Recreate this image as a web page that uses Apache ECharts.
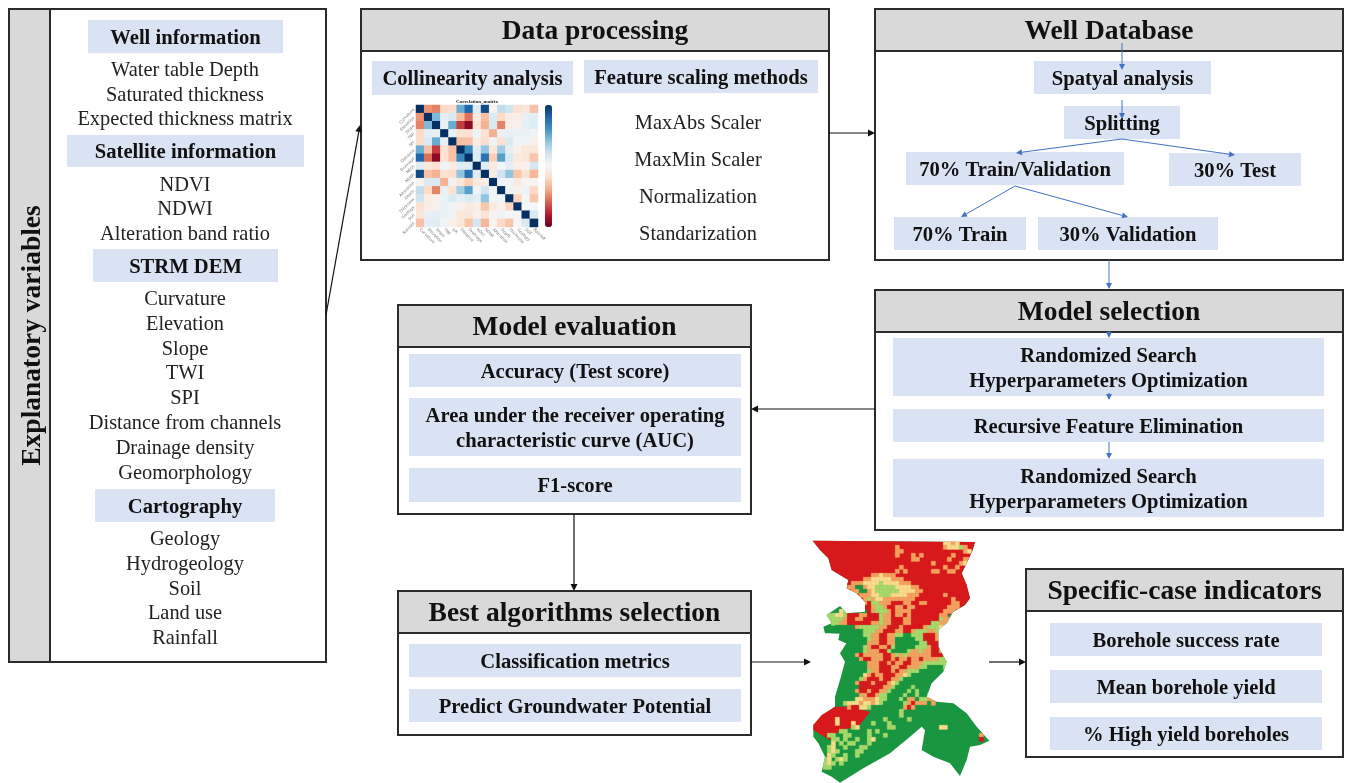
<!DOCTYPE html>
<html>
<head>
<meta charset="utf-8">
<title>Groundwater potential workflow</title>
<script src="https://cdn.jsdelivr.net/npm/echarts@6/dist/echarts.min.js"></script>
<style>
  html, body { margin: 0; padding: 0; background: #fff; }
  /* the source figure is a soft scan, a touch of blur brings the edges closer */
  #chart { width: 1346px; height: 783px; filter: blur(0.4px); }
</style>
</head>
<body>
<div id="chart"></div>
<script>
// texts
const sideTitle = 'Explanatory variables'
const panelTitles = ['Data processing', 'Well Database', 'Model selection', 'Model evaluation', 'Best algorithms selection', 'Specific-case indicators']
const groupTitles = ['Well information', 'Satellite information', 'STRM DEM', 'Cartography']
const wellItems = ['Water table Depth', 'Saturated thickness', 'Expected thickness matrix']
const satelliteItems = ['NDVI', 'NDWI', 'Alteration band ratio']
const demItems = ['Curvature', 'Elevation', 'Slope', 'TWI', 'SPI', 'Distance from channels', 'Drainage density', 'Geomorphology']
const cartographyItems = ['Geology', 'Hydrogeology', 'Soil', 'Land use', 'Rainfall']
const scalingMethods = ['MaxAbs Scaler', 'MaxMin Scaler', 'Normalization', 'Standarization']
const processingChips = ['Collinearity analysis', 'Feature scaling methods']
const databaseChips = ['Spatyal analysis', 'Splitting', '70% Train/Validation', '30% Test', '70% Train', '30% Validation']
const selectionChips = ['Randomized Search\nHyperparameters Optimization', 'Recursive Feature Elimination', 'Randomized Search\nHyperparameters Optimization']
const evaluationChips = ['Accuracy (Test score)', 'Area under the receiver operating\ncharacteristic curve (AUC)', 'F1-score']
const algorithmChips = ['Classification metrics', 'Predict Groundwater Potential']
const indicatorChips = ['Borehole success rate', 'Mean borehole yield', '% High yield boreholes']

// correlation matrix
const matrixLabels = ['Curvature', 'Elevation', 'Slope', 'TWI', 'SPI', 'Distance', 'Drainage', 'NDVI', 'NDWI', 'Alteration', 'Depth', 'Thickness', 'Geology', 'Soil', 'Rainfall']
const matrixRows = [
  [1, -0.45, -0.5, -0.2, -0.18, 0.5, 0.8, 0.12, 0.9, -0.03, 0.25, 0.2, -0.15, -0.12, -0.3],
  [-0.45, 1, 0.45, 0.1, 0.15, -0.3, -0.55, -0.1, -0.3, 0.15, -0.2, -0.08, -0.07, 0.08, 0.1],
  [-0.5, 0.45, 1, 0.08, 0.5, -0.7, -0.9, -0.15, -0.35, 0.15, -0.5, -0.05, -0.05, 0.1, 0.12],
  [-0.2, 0.1, 0.08, 1, 0.08, -0.15, -0.15, 0.05, -0.15, -0.35, 0.08, 0.07, 0.07, 0.07, 0.03],
  [-0.18, 0.15, 0.5, 0.08, 1, -0.3, -0.3, -0.08, -0.18, 0.05, -0.15, 0.15, 0.05, 0.05, -0.05],
  [0.5, -0.3, -0.7, -0.15, -0.3, 1, 0.65, 0.12, 0.4, -0.12, 0.35, 0.1, -0.05, -0.12, -0.12],
  [0.8, -0.55, -0.9, -0.15, -0.3, 0.65, 1, 0.12, 0.75, -0.25, 0.55, 0.15, -0.1, -0.12, -0.28],
  [0.12, -0.1, -0.15, 0.05, -0.08, 0.12, 0.12, 1, 0.12, -0.1, 0.03, 0.1, -0.07, -0.05, 0.18],
  [0.9, -0.3, -0.35, -0.15, -0.18, 0.4, 0.75, 0.12, 1, -0.08, 0.2, 0.4, -0.28, -0.15, -0.33],
  [-0.03, 0.15, 0.15, -0.35, 0.05, -0.12, -0.25, -0.1, -0.08, 1, 0.05, 0.03, -0.1, -0.03, -0.03],
  [0.25, -0.2, -0.5, 0.08, -0.15, 0.35, 0.55, 0.03, 0.2, 0.05, 1, 0.05, -0.05, 0.05, -0.2],
  [0.2, -0.08, -0.05, 0.07, 0.15, 0.1, 0.15, 0.1, 0.4, 0.03, 0.05, 1, -0.22, 0.02, -0.28],
  [-0.15, -0.07, -0.05, 0.07, 0.05, -0.05, -0.1, -0.07, -0.28, -0.1, -0.05, -0.22, 1, 0.02, 0.02],
  [-0.12, 0.08, 0.1, 0.07, 0.05, -0.12, -0.12, -0.05, -0.15, -0.03, 0.05, 0.02, 0.02, 1, 0.15],
  [-0.3, 0.1, 0.12, 0.03, -0.05, -0.12, -0.28, 0.18, -0.33, -0.03, -0.2, -0.28, 0.02, 0.15, 1]
]

// potential map: outlines in map units, then a class raster (one letter per cell, . = leave as is)
const mapOutline = [[68, 32], [555, 36], [548, 60], [530, 100], [515, 130], [530, 165], [540, 205], [525, 225], [490, 245], [470, 280], [445, 300], [445, 350], [470, 395], [460, 425], [425, 460], [410, 500], [440, 515], [490, 520], [530, 550], [560, 590], [598, 632], [570, 645], [540, 650], [530, 690], [510, 738], [480, 700], [430, 680], [395, 660], [405, 600], [395, 590], [360, 620], [300, 670], [220, 715], [150, 758], [125, 740], [95, 725], [105, 680], [85, 640], [70, 620], [70, 585], [95, 560], [135, 530], [135, 500], [150, 450], [165, 395], [150, 370], [170, 340], [145, 330], [150, 310], [105, 310], [100, 290], [125, 280], [110, 255], [150, 228], [170, 250], [225, 245], [225, 215], [200, 190], [170, 175], [175, 150], [125, 120], [115, 85], [90, 60]]
const mapNorthRed = [[68, 32], [555, 36], [548, 60], [530, 100], [515, 130], [530, 165], [540, 205], [525, 225], [490, 245], [470, 260], [400, 300], [350, 300], [300, 240], [260, 200], [240, 210], [225, 215], [200, 190], [170, 175], [175, 150], [125, 120], [115, 85], [90, 60]]
const mapSouthWestRed = [[70, 585], [95, 555], [135, 530], [175, 530], [240, 545], [205, 590], [150, 600], [120, 630], [85, 610], [70, 600]]
const mapRows = [
  '..............................YYOY',
  '..................O...........OYYYLO',
  '..................OO...............OY.O',
  '..................O...O.O.......O....O',
  '......................OO.......O...OO',
  '...........................O......OY',
  '...................O..........O..O',
  '..................O.O......OO..OO',
  '............OOYOOO',
  '..........OOYYYYYOOO',
  '......ROOOYYYYLYYYYOOOR',
  '......OOGGOYYLLLLLYYYYOOR',
  '.......OOGGOYLLLLLLYYYYOOR',
  '.........OOOYYLLLYYYYOOORRR...O',
  '..........OLOYYOOOOOOOORRRRRRRRRO',
  '..........ORLLOOORRROORROORRRRRROO',
  '..........RROLLORROOROORRRRRRRROOO',
  '....YL.....ROLLLOROOOORRRRRRRROOO',
  '.LLYYLRRROORRRLOOROORORRRRRRROO',
  'LLLLLORROORRRRLOORRROORRRRRRRLOO',
  '..LLOORRRRRROOLOORRROORRRRRLLOO',
  '...GGGGGOLLLLLOORRRORRRRROLLLY',
  '...GGGGGGGLLLOORRROORROLLLOOL',
  '..GGGGGGGGLLOORROOLLGGLLLRRRO',
  '.....GGGGGGLOORROOGGGGGLLRRRO',
  '.....GGGGGGOOORROOGGGGGGLLRRRO',
  '.....GGGGGLORROORLGGGGGLLLORRO',
  '.....GGGGGLOOORRLGGGGLOOLOORRL',
  '.......GOROOOOORROLOLOOOOOORRRL',
  '.......GGORROOORROROOROOROOOOLLL',
  '.......GGGGOOORROROORROOOLLLLLL',
  '.......GGGGOOORRROORROOOLLGGGGL',
  '.......GGGGLOORRROROOLLLGGGGG',
  '......GGGGYOROORRROOYLGGGGGG',
  '......GGGLORRRORROOLGGGGGGG',
  '......GGORRRORRROYLGGGGGGG',
  '......GGGRRRRRROOLGGGGLGGG',
  '......GGORRORROOLGGGGLGLGG',
  '......GGGOORROLLGGGGLGGLGGL',
  '......GGYYOOOYLLGGGLGOOGLLOO',
  '.....LYYYOYYOYLGGGGGLOROOOGO',
  '......ORRYYLGGGGGGGGOROGGG',
  '...................L',
  '...................L',
  '...Y...........L.....L',
  '...Y...Y....L...L',
  '.......LY.......LL...........YY',
  '....LL.....L.L',
  '.LL..LL....L...L.......................O',
  '..LL.L..L..LY..........................R',
  '..Y.L.LL...L',
  '.LY..L...LL',
  '.LYL....LL',
  '.YL..L..L',
  'LY.LYL',
  'LYL.L',
  'LL'
]
const mapClassColors = { R: '#d7191c', O: '#f4a25f', Y: '#f9dc8c', L: '#a6d96a', G: '#1a9641' }

// layout, in page pixels
const TEXT = '#111'
const SERIF = '"Liberation Serif", "Times New Roman", serif'
const panelBoxes = [[361, 9, 829, 260], [875, 9, 1343, 260], [875, 290, 1343, 530], [398, 305, 751, 514], [398, 591, 751, 735], [1026, 569, 1343, 757]]
const panelHeaderHeight = 42
const chipBoxes = {
  group: [[88, 20, 283, 53], [67, 135, 304, 167], [93, 249, 278, 282], [95, 489, 275, 522]],
  processing: [[372, 61, 573, 95], [584, 60, 818, 93]],
  database: [[1034, 61, 1211, 94], [1064, 106, 1180, 139], [906, 152, 1124, 185], [1169, 153, 1301, 186], [894, 217, 1026, 250], [1038, 217, 1218, 250]],
  selection: [[893, 338, 1324, 396], [893, 409, 1324, 442], [893, 459, 1324, 517]],
  evaluation: [[409, 354, 741, 387], [409, 398, 741, 456], [409, 468, 741, 502]],
  algorithm: [[409, 644, 741, 677], [409, 689, 741, 722]],
  indicator: [[1050, 623, 1322, 656], [1050, 670, 1322, 703], [1050, 717, 1322, 750]]
}
const wellRowY = [71, 96, 120]
const satelliteRowY = [186, 210, 235]
const demRowY = [300, 325, 350, 374, 399, 424, 449, 474]
const cartographyRowY = [540, 565, 590, 614, 639]
const scalingRowY = [124, 161, 198, 235]
const blackArrows = [[326, 315, 360, 125], [829, 133, 875, 133], [875, 409, 751, 409], [574, 514, 574, 591], [751, 662, 811, 662], [989, 662, 1026, 662]]
const blueArrows = [[1122, 43, 1122, 70], [1122, 100, 1122, 119], [1122, 139, 1016, 153], [1122, 139, 1235, 155], [1015, 186, 961, 217], [1015, 186, 1128, 217], [1109, 260, 1109, 289], [1109, 331, 1109, 338], [1109, 393, 1109, 400], [1109, 442, 1109, 459]]

function chipItems(boxes, labels) {
  return boxes.map((b, i) => ({ box: b, label: labels[i] }))
}
const allChips = [].concat(
  chipItems(chipBoxes.group, groupTitles),
  chipItems(chipBoxes.processing, processingChips),
  chipItems(chipBoxes.database, databaseChips),
  chipItems(chipBoxes.selection, selectionChips),
  chipItems(chipBoxes.evaluation, evaluationChips),
  chipItems(chipBoxes.algorithm, algorithmChips),
  chipItems(chipBoxes.indicator, indicatorChips)
)
function plainRows(labels, rowY, x) {
  return labels.map((t, i) => ({ text: t, x: x, y: rowY[i] }))
}
const plainLabels = [].concat(
  plainRows(wellItems, wellRowY, 185),
  plainRows(satelliteItems, satelliteRowY, 185),
  plainRows(demItems, demRowY, 185),
  plainRows(cartographyItems, cartographyRowY, 185),
  plainRows(scalingMethods, scalingRowY, 698)
)

function rectPx(api, b) {
  const a = api.coord([b[0], b[1]])
  const c = api.coord([b[2], b[3]])
  return { x: a[0], y: a[1], width: c[0] - a[0], height: c[1] - a[1] }
}

function customSeries(items, draw, axisIndex, z) {
  return {
    type: 'custom',
    coordinateSystem: 'cartesian2d',
    xAxisIndex: axisIndex,
    yAxisIndex: axisIndex,
    clip: false,
    silent: true,
    z: z,
    data: items.map((_, i) => [i, i]),
    renderItem: (params, api) => draw(items[params.dataIndex], api)
  }
}

function drawPanel(item, api) {
  const r = rectPx(api, item.box)
  return {
    type: 'group',
    children: [
      { type: 'rect', shape: r, style: { fill: '#fff', stroke: '#2b2b2b', lineWidth: 2 } },
      { type: 'rect', shape: { x: r.x, y: r.y, width: r.width, height: panelHeaderHeight }, style: { fill: '#d9d9d9', stroke: '#2b2b2b', lineWidth: 2 } },
      { type: 'text', style: { text: item.title, x: r.x + r.width / 2, y: r.y + panelHeaderHeight / 2 + 2, align: 'center', verticalAlign: 'middle', font: 'bold 27.5px ' + SERIF, fill: TEXT } }
    ]
  }
}

function drawSide(item, api) {
  const r = rectPx(api, item.box)
  const bar = rectPx(api, item.bar)
  return {
    type: 'group',
    children: [
      { type: 'rect', shape: r, style: { fill: '#fff', stroke: '#2b2b2b', lineWidth: 2 } },
      { type: 'rect', shape: bar, style: { fill: '#d9d9d9', stroke: '#2b2b2b', lineWidth: 2 } },
      { type: 'text', x: bar.x + bar.width / 2 + 3, y: bar.y + bar.height / 2, rotation: Math.PI / 2, style: { text: sideTitle, x: 0, y: 0, align: 'center', verticalAlign: 'middle', font: 'bold 27.5px ' + SERIF, fill: TEXT } }
    ]
  }
}

function drawChip(item, api) {
  const r = rectPx(api, item.box)
  return {
    type: 'group',
    children: [
      { type: 'rect', shape: r, style: { fill: '#dae3f3' } },
      { type: 'text', style: { text: item.label, x: r.x + r.width / 2, y: r.y + r.height / 2 + 2, align: 'center', verticalAlign: 'middle', font: 'bold 20.6px ' + SERIF, lineHeight: 25, fill: TEXT } }
    ]
  }
}

function drawLabel(item, api) {
  const p = api.coord([item.x, item.y])
  return { type: 'text', style: { text: item.text, x: p[0], y: p[1], align: 'center', verticalAlign: 'middle', font: (item.font || '20.4px ') + SERIF, fill: item.fill || '#222' } }
}

function arrowDraw(color, width, head) {
  return (a, api) => {
    const s = api.coord([a[0], a[1]])
    const e = api.coord([a[2], a[3]])
    const ang = Math.atan2(e[1] - s[1], e[0] - s[0])
    const bx = e[0] - head * Math.cos(ang)
    const by = e[1] - head * Math.sin(ang)
    const nx = -Math.sin(ang) * head * 0.5
    const ny = Math.cos(ang) * head * 0.5
    return {
      type: 'group',
      children: [
        { type: 'line', shape: { x1: s[0], y1: s[1], x2: bx, y2: by }, style: { stroke: color, lineWidth: width } },
        { type: 'polygon', shape: { points: [[e[0], e[1]], [bx + nx, by + ny], [bx - nx, by - ny]] }, style: { fill: color } }
      ]
    }
  }
}

function drawMapPolygon(item, api) {
  return { type: 'polygon', shape: { points: item.points.map(p => api.coord(p)) }, style: { fill: item.fill } }
}

// the raster is clipped to the outline so the cells keep the map's edge
function drawMapRaster(rows, api) {
  const cell = 12
  const x0 = 100
  const y0 = 34
  const children = []
  rows.forEach((row, r) => {
    row.split('').forEach((c, i) => {
      if (c === '.') return
      const b = rectPx(api, [x0 + i * cell, y0 + r * cell, x0 + (i + 1) * cell, y0 + (r + 1) * cell])
      // same-colour stroke hides the hairline seams between cells
      children.push({ type: 'rect', shape: b, style: { fill: mapClassColors[c], stroke: mapClassColors[c], lineWidth: 0.6 } })
    })
  })
  return {
    type: 'group',
    clipPath: { type: 'polygon', shape: { points: mapOutline.map(p => api.coord(p)) } },
    children: children
  }
}

const heatData = []
matrixRows.forEach((row, y) => row.forEach((v, x) => heatData.push([x, y, v])))

const chart = echarts.init(document.getElementById('chart'))
chart.setOption({
  animation: false,
  backgroundColor: '#fff',
  grid: [
    { left: 0, top: 0, width: 1346, height: 783 },
    { left: 416, top: 105, width: 122, height: 122 },
    { left: 790, top: 530, width: 210, height: 253 }
  ],
  xAxis: [
    { type: 'value', min: 0, max: 1346, show: false },
    {
      type: 'category', gridIndex: 1, data: matrixLabels, z: 5,
      axisLine: { show: false }, axisTick: { show: false }, splitLine: { show: false },
      axisLabel: { interval: 0, rotate: -45, fontSize: 4, margin: 2, color: '#777', fontFamily: 'DejaVu Sans' }
    },
    { type: 'value', gridIndex: 2, min: 0, max: 630, show: false }
  ],
  yAxis: [
    { type: 'value', min: 0, max: 783, inverse: true, show: false },
    {
      type: 'category', gridIndex: 1, data: matrixLabels, inverse: true, z: 5,
      axisLine: { show: false }, axisTick: { show: false }, splitLine: { show: false },
      axisLabel: { interval: 0, rotate: 45, fontSize: 4, margin: 2, color: '#777', fontFamily: 'DejaVu Sans' }
    },
    { type: 'value', gridIndex: 2, min: 0, max: 759, inverse: true, show: false }
  ],
  visualMap: {
    type: 'continuous',
    seriesIndex: 0,
    min: -1,
    max: 1,
    calculable: false,
    text: ['', ''],
    showLabel: false,
    itemWidth: 7,
    itemHeight: 122,
    left: 545,
    top: 105,
    padding: 0,
    inRange: { color: ['#67001f', '#b2182b', '#d6604d', '#f4a582', '#fddbc7', '#f7f7f7', '#d1e5f0', '#92c5de', '#4393c3', '#2166ac', '#053061'] }
  },
  series: [
    {
      type: 'heatmap', xAxisIndex: 1, yAxisIndex: 1, data: heatData, silent: true, z: 5,
      itemStyle: { borderWidth: 0 }
    },
    customSeries([{ box: [9, 9, 326, 662], bar: [9, 9, 50, 662] }], drawSide, 0, 1),
    customSeries(panelBoxes.map((b, i) => ({ box: b, title: panelTitles[i] })), drawPanel, 0, 1),
    customSeries(allChips, drawChip, 0, 2),
    customSeries(plainLabels.concat([{ text: 'Correlation_matrix', x: 477, y: 102, font: 'bold 5px ' }]), drawLabel, 0, 6),
    customSeries([{ points: mapOutline, fill: '#1a9641' }, { points: mapNorthRed, fill: '#d7191c' }, { points: mapSouthWestRed, fill: '#d7191c' }], drawMapPolygon, 2, 2),
    customSeries([mapRows], drawMapRaster, 2, 3),
    customSeries(blackArrows, arrowDraw('#111', 1.2, 7), 0, 7),
    customSeries(blueArrows, arrowDraw('#4472c4', 1, 6), 0, 7)
  ]
})
</script>
</body>
</html>
